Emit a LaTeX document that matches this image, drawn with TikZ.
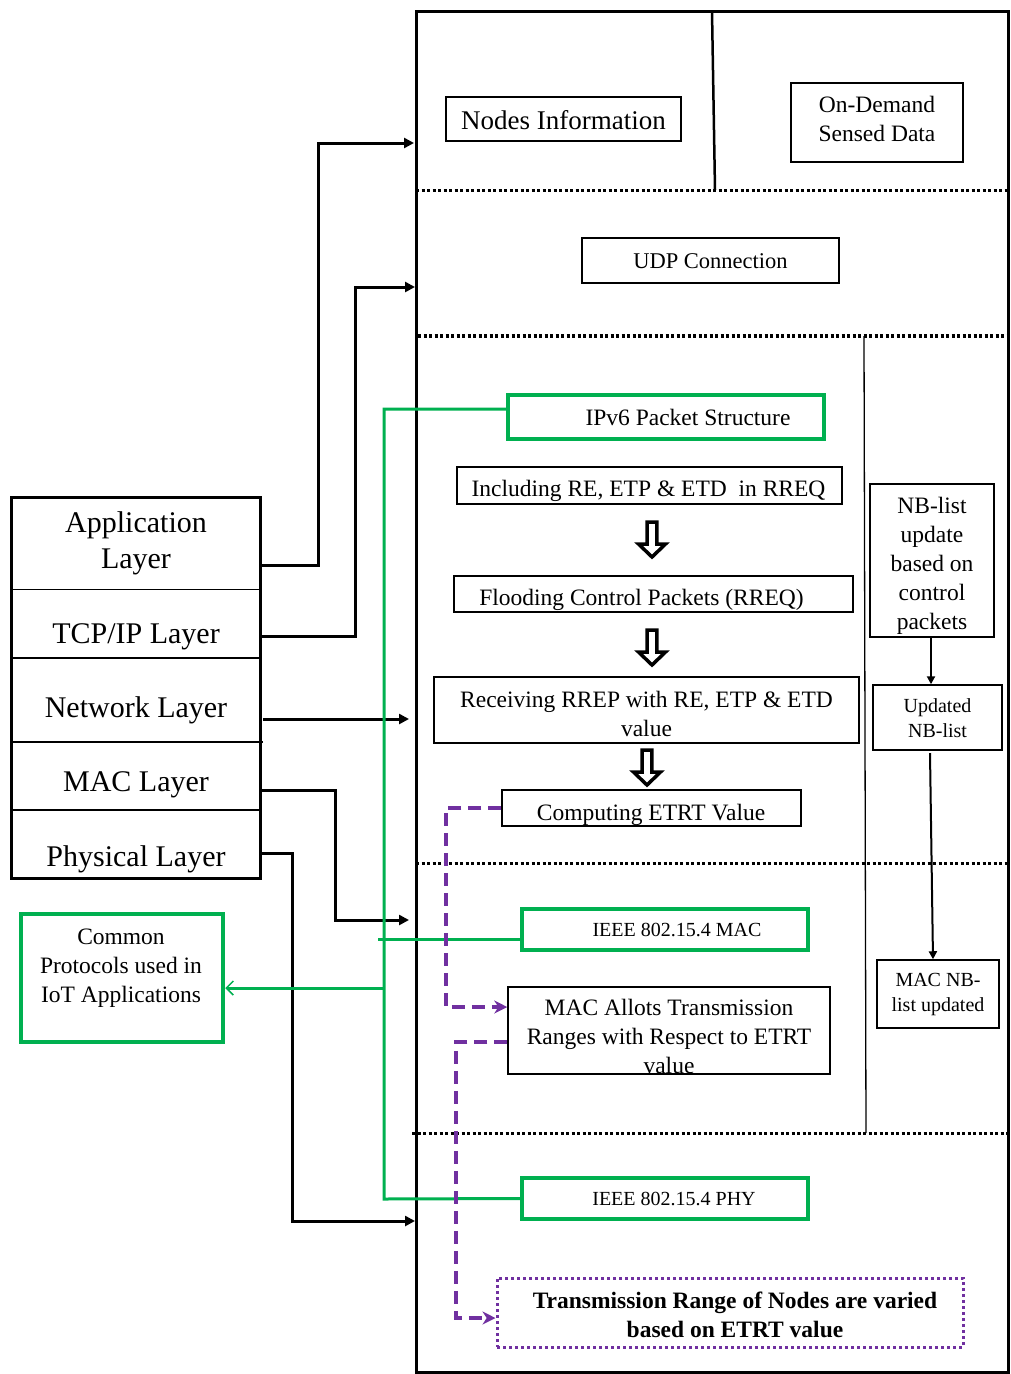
\documentclass[tikz,border=0pt]{standalone}
\usepackage{fontspec}
\setmainfont{Liberation Serif}
\usetikzlibrary{arrows.meta,calc}
\definecolor{ogreen}{HTML}{00B050}
\definecolor{opurple}{HTML}{7030A0}
\tikzset{
  box/.style={draw, line width=1.5pt, inner sep=0pt},
  gbox/.style={draw=ogreen, line width=3.5pt, inner sep=0pt},
  pbox/.style={draw=opurple, line width=3pt, dash pattern=on 3pt off 3pt, inner sep=0pt},
  txt/.style={inner sep=0pt, align=center, font=\fontsize{23.5}{29}\selectfont},
  stxt/.style={inner sep=0pt, align=center, font=\fontsize{20}{25}\selectfont},
  ltxt/.style={inner sep=0pt, align=center, font=\fontsize{30}{36}\selectfont},
  layerbox/.style={inner sep=0pt, minimum width=249pt},
  conn/.style={line width=3pt, -{Triangle[length=10pt,width=10pt]}},
  nbconn/.style={line width=2pt, -{Triangle[length=8pt,width=8pt]}},
  gline/.style={draw=ogreen, line width=3pt},
  garrow/.style={draw=ogreen, line width=3pt, -{Straight Barb[length=7pt,width=14pt,line width=1.5pt]}},
  pdash/.style={draw=opurple, line width=4pt, dash pattern=on 13pt off 7pt, -{Stealth[length=13pt,width=13pt]}},
  dotline/.style={line width=3pt, dash pattern=on 3pt off 2.5pt},
  harrow/.pic={\draw[line width=3.5pt, fill=white, line join=miter]
     (-4.8,0) -- (4.8,0) -- (4.8,22) -- (13.5,22) -- (0,35) -- (-13.5,22) -- (-4.8,22) -- cycle;}
}
\begin{document}
\begin{tikzpicture}[x=1pt,y=-1pt]
\useasboundingbox (0,0) rectangle (1010,1374);

% main frame
\node[draw, line width=3pt, minimum width=592pt, minimum height=1361pt, inner sep=0pt] (frame) at (712,691.5) {};
\coordinate (vt) at (712,11);
\coordinate (vb) at (715,190);
\draw[line width=2.5pt] (vt) -- (vb);
\draw[dotline] (416,190) -- (1008,190);
\draw[dotline, line width=4pt] (418,336) -- (1008,336);
\draw[dotline] (416,863) -- (1008,863);
\draw[dotline] (412,1133) -- (1008,1133);
\coordinate (st) at (864,336);
\coordinate (sb) at (866,1133);
\draw[line width=1.3pt] (st) -- (sb);

% top boxes
\node[box, minimum width=235pt, minimum height=44pt] (nodes) at (563.5,119) {};
\node[txt, font=\fontsize{27}{32}\selectfont] (nodesT) at (563.5,120) {Nodes Information};
\node[box, minimum width=172pt, minimum height=79pt] (ondemand) at (877,122.5) {};
\node[txt] (ondemandT) at (877,118.5) {On-Demand\\Sensed Data};
\node[box, minimum width=257pt, minimum height=45pt] (udp) at (710.5,260.5) {};
\node[txt, font=\fontsize{22.5}{27}\selectfont] (udpT) at (710.5,261.5) {UDP Connection};

% network section
\node[gbox, minimum width=316pt, minimum height=44pt] (ipv6) at (666,417) {};
\node[txt] (ipv6T) at (688,417) {IPv6 Packet Structure};
\node[box, minimum width=385pt, minimum height=37pt] (incl) at (649.5,485.5) {};
\node[txt] (inclT) at (648.5,490.5) {Including RE, ETP \& ETD\ \ in RREQ};
\node[box, minimum width=399pt, minimum height=36pt] (flood) at (653.5,594) {};
\node[txt] (floodT) at (641.5,600) {Flooding Control Packets (RREQ)};
\node[box, minimum width=425pt, minimum height=66pt] (recv) at (646.5,710) {};
\node[txt] (recvT) at (646.5,713.5) {Receiving RREP with RE, ETP \& ETD\\value};
\node[box, minimum width=299pt, minimum height=36pt] (etrt) at (651.5,808) {};
\node[txt] (etrtT) at (651,814.5) {Computing ETRT Value};
\pic at (652,522) {harrow};
\pic at (652,630) {harrow};
\pic at (647,750) {harrow};

% MAC section
\node[gbox, minimum width=286pt, minimum height=41pt] (mac) at (665,929.5) {};
\node[stxt] (macT) at (677,929.5) {IEEE 802.15.4 MAC};
\node[box, minimum width=322pt, minimum height=87pt] (allot) at (669,1030.5) {};
\node[txt] (allotT) at (669,1036) {MAC Allots Transmission\\Ranges with Respect to ETRT\\value};

% PHY section
\node[gbox, minimum width=286pt, minimum height=41pt] (phy) at (665,1198.5) {};
\node[stxt] (phyT) at (674,1198.5) {IEEE 802.15.4 PHY};
\node[pbox, minimum width=466pt, minimum height=69pt] (trans) at (730,1312.5) {};
\node[txt, font=\fontsize{23.5}{29}\selectfont\bfseries] (transT) at (735,1315) {Transmission Range of Nodes are varied\\based on ETRT value};

% NB list column
\node[box, minimum width=124pt, minimum height=153pt] (nbl) at (932,560.5) {};
\node[txt] (nblT) at (932,565.5) {NB-list\\update\\based on\\control\\packets};
\node[box, minimum width=129pt, minimum height=65pt] (upd) at (937.5,717.5) {};
\node[stxt] (updT) at (937.5,718.5) {Updated\\NB-list};
\node[box, minimum width=122pt, minimum height=68pt] (macnb) at (938,994) {};
\node[stxt] (macnbT) at (938,994) {MAC NB-\\list updated};
\draw[nbconn] (nbl.south -| 931,0) -- (upd.north -| 931,0);
\draw[nbconn] (930,753) -- (macnb.north -| 933,0);

% layer stack
\node[layerbox, minimum height=92pt] (lApp) at (135.5,543) {};
\node[layerbox, minimum height=69pt] (lTcp) at (135.5,623.5) {};
\node[layerbox, minimum height=84pt] (lNet) at (135.5,700) {};
\node[layerbox, minimum height=68pt] (lMac) at (135.5,776) {};
\node[layerbox, minimum height=68pt] (lPhy) at (135.5,844) {};
\node[draw, line width=3pt, minimum width=249pt, minimum height=381pt, inner sep=0pt] (stack) at (135.5,687.5) {};
\draw[line width=1pt] (lApp.south west) -- (lApp.south east);
\draw[line width=2pt] (lTcp.south west) -- (lTcp.south east);
\draw[line width=2pt] (lNet.south west) -- ([xshift=3pt]lNet.south east);
\draw[line width=2pt] (lMac.south west) -- (lMac.south east);
\node[ltxt] (tApp) at (136,543) {Application\\Layer};
\node[ltxt] (tTcp) at (136,636.5) {TCP/IP Layer};
\node[ltxt] (tNet) at (136,710) {Network Layer};
\node[ltxt] (tMac) at (136,785) {MAC Layer};
\node[ltxt] (tPhy) at (136,859) {Physical Layer};

% common protocols
\node[draw=ogreen, line width=4.5pt, minimum width=202pt, minimum height=128pt, inner sep=0pt] (common) at (122,978) {};
\node[txt] (commonT) at (121,968) {Common\\Protocols used in\\IoT Applications};

% black connectors from layers
\coordinate (inApp) at (414,143);
\coordinate (inTcp) at (415,287);
\coordinate (inNet) at (409,719);
\coordinate (inMac) at (409,920);
\coordinate (inPhy) at (415,1221);
\coordinate (b1) at (318,300);
\coordinate (b2) at (355,400);
\coordinate (b3) at (335,850);
\coordinate (b4) at (292,1000);
\draw[conn] ([yshift=-22pt]lApp.east) -| (b1) |- (inApp);
\draw[conn] ([yshift=-12.5pt]lTcp.east) -| (b2) |- (inTcp);
\draw[conn] ([yshift=-19pt,xshift=3pt]lNet.east) -- (inNet);
\draw[conn] ([yshift=-14pt]lMac.east) -| (b3) |- (inMac);
\draw[conn] ([yshift=-9pt]lPhy.east) -| (b4) |- (inPhy);

% green bus
\coordinate (gTop) at (384,409);
\coordinate (gBot) at (384,1199);
\coordinate (gMac) at (378,939);
\coordinate (gMid) at (384,988);
\draw[gline] ([yshift=8pt]ipv6.west) -- (gTop) -- (gBot) -- (phy.west);
\draw[gline] ([yshift=-9.5pt]mac.west) -- (gMac);
\draw[garrow] (gMid) -- (gMid -| common.east);

% purple dashed connectors
\coordinate (pb1) at (446,900);
\coordinate (pb2) at (456,1200);
\draw[pdash] (etrt.west) -| (pb1) |- ([yshift=23.5pt]allot.west);
\draw[pdash] ([yshift=-11.5pt]allot.west) -| (pb2) |- ([yshift=-5.5pt]trans.west);
\end{tikzpicture}
\end{document}
